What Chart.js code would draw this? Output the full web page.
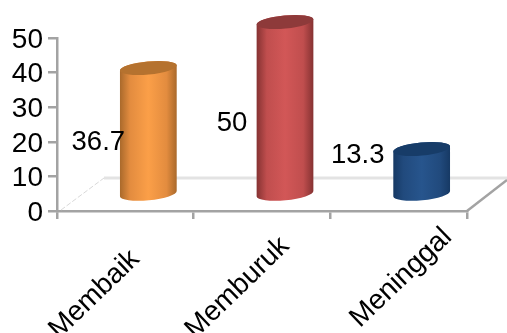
<!DOCTYPE html>
<html>
<head>
<meta charset="utf-8">
<style>
  html, body { margin: 0; padding: 0; background: #fff; overflow: hidden; }
  canvas { display: block; }
</style>
<script src="https://cdn.jsdelivr.net/npm/chart.js@4/dist/chart.umd.js"></script>
</head>
<body>
<canvas id="chart" width="507" height="333"></canvas>
<script>
const categories = ['Membaik', 'Memburuk', 'Meninggal'];
const values = [36.7, 50, 13.3];
const valueLabels = ['36.7', '50', '13.3'];
const yTicks = [0, 10, 20, 30, 40, 50];

// cylinder shades: edge, shoulder, middle, lid
const shades = [
    ['#a9692b', '#e38c3f', '#fb9f48', '#b5722f'],
    ['#853232', '#c04e4e', '#d25757', '#8e3a3a'],
    ['#163964', '#214a7d', '#27558d', '#173c68']
];
// where each value label sits, relative to the cylinder lid
const labelShift = [[-50, 74], [-53, 101], [-64, 6]];
// where each category label ends, relative to its tick slot
const tickLabelShift = [[10, 44], [23, 31], [49, 22]];

const FONT = '"Liberation Sans", Arial, sans-serif';
const AXIS = '#a3a3a3';
const DEPTH_X = 23, DEPTH_Y = 16;
const RY = 6.5, TILT = -5.5 * Math.PI / 180;

const cylinders = {
    id: 'cylinders',
    beforeDatasetsDraw(chart) {
        const {ctx, chartArea: a} = chart;
        ctx.save();
        // floor of the 3d box
        ctx.strokeStyle = '#e3e3e3';
        ctx.lineWidth = 3;
        ctx.beginPath();
        ctx.moveTo(a.left + 47, a.bottom - 33);
        ctx.lineTo(507, a.bottom - 33);
        ctx.stroke();
        ctx.lineWidth = 1;
        ctx.setLineDash([5, 2]);
        ctx.strokeStyle = '#d8d8d8';
        ctx.beginPath();
        ctx.moveTo(a.left + 4, a.bottom - 1);
        ctx.lineTo(a.left + 47, a.bottom - 33);
        ctx.stroke();
        ctx.setLineDash([]);
        ctx.lineWidth = 2.5;
        ctx.strokeStyle = AXIS;
        ctx.beginPath();
        ctx.moveTo(a.right, a.bottom);
        ctx.lineTo(a.right + 40, a.bottom - 31);
        ctx.stroke();
        ctx.restore();
    },
    afterDatasetsDraw(chart) {
        const {ctx, chartArea: a} = chart;
        chart.getDatasetMeta(0).data.forEach((bar, i) => {
            const cx = bar.x + DEPTH_X, rx = bar.width / 2;
            const top = bar.y - DEPTH_Y, bottom = bar.base - DEPTH_Y;
            const [edge, shoulder, mid, lid] = shades[i];
            const g = ctx.createLinearGradient(cx - rx, 0, cx + rx, 0);
            g.addColorStop(0, edge);
            g.addColorStop(0.18, shoulder);
            g.addColorStop(0.5, mid);
            g.addColorStop(0.82, shoulder);
            g.addColorStop(1, edge);
            ctx.save();
            ctx.fillStyle = g;
            ctx.beginPath();
            ctx.ellipse(cx, bottom, rx, RY, TILT, 0, Math.PI);
            ctx.ellipse(cx, top, rx, RY, TILT, Math.PI, Math.PI * 2);
            ctx.closePath();
            ctx.fill();
            ctx.fillStyle = lid;
            ctx.beginPath();
            ctx.ellipse(cx, top, rx, RY, TILT, 0, Math.PI * 2);
            ctx.fill();
            // value label
            ctx.fillStyle = '#000';
            ctx.font = '27.5px ' + FONT;
            ctx.textAlign = 'center';
            ctx.textBaseline = 'middle';
            ctx.fillText(valueLabels[i], cx + labelShift[i][0], top + labelShift[i][1]);
            // slanted category label under the axis
            ctx.font = '28px ' + FONT;
            ctx.translate(bar.x + tickLabelShift[i][0], a.bottom + tickLabelShift[i][1]);
            ctx.rotate(-44 * Math.PI / 180);
            ctx.textAlign = 'right';
            ctx.fillText(categories[i], 0, 0);
            ctx.restore();
        });
    }
};

new Chart(document.getElementById('chart').getContext('2d'), {
    type: 'bar',
    data: {
        labels: categories,
        datasets: [{
            data: values,
            backgroundColor: 'transparent',
            borderWidth: 0,
            barPercentage: 0.417,
            categoryPercentage: 1
        }]
    },
    plugins: [cylinders],
    options: {
        responsive: false,
        animation: false,
        layout: {padding: {top: 38, right: 40, left: 0, bottom: 0}},
        plugins: {legend: {display: false}, tooltip: {enabled: false}},
        scales: {
            x: {
                afterFit: s => { s.height = 122; },
                border: {color: AXIS, width: 2.5},
                grid: {drawOnChartArea: false, color: AXIS, lineWidth: 2.5, tickLength: 8},
                ticks: {display: false}
            },
            y: {
                min: 0,
                max: 50,
                afterFit: s => { s.width = 57; },
                afterBuildTicks: s => { s.ticks = yTicks.map(v => ({value: v})); },
                border: {color: AXIS, width: 2.5},
                grid: {drawOnChartArea: false, color: AXIS, lineWidth: 2.5, tickLength: 9},
                ticks: {
                    color: '#000',
                    font: {family: FONT, size: 28},
                    autoSkip: false,
                    labelOffset: 2,
                    padding: 5
                }
            }
        }
    }
});
</script>
</body>
</html>
